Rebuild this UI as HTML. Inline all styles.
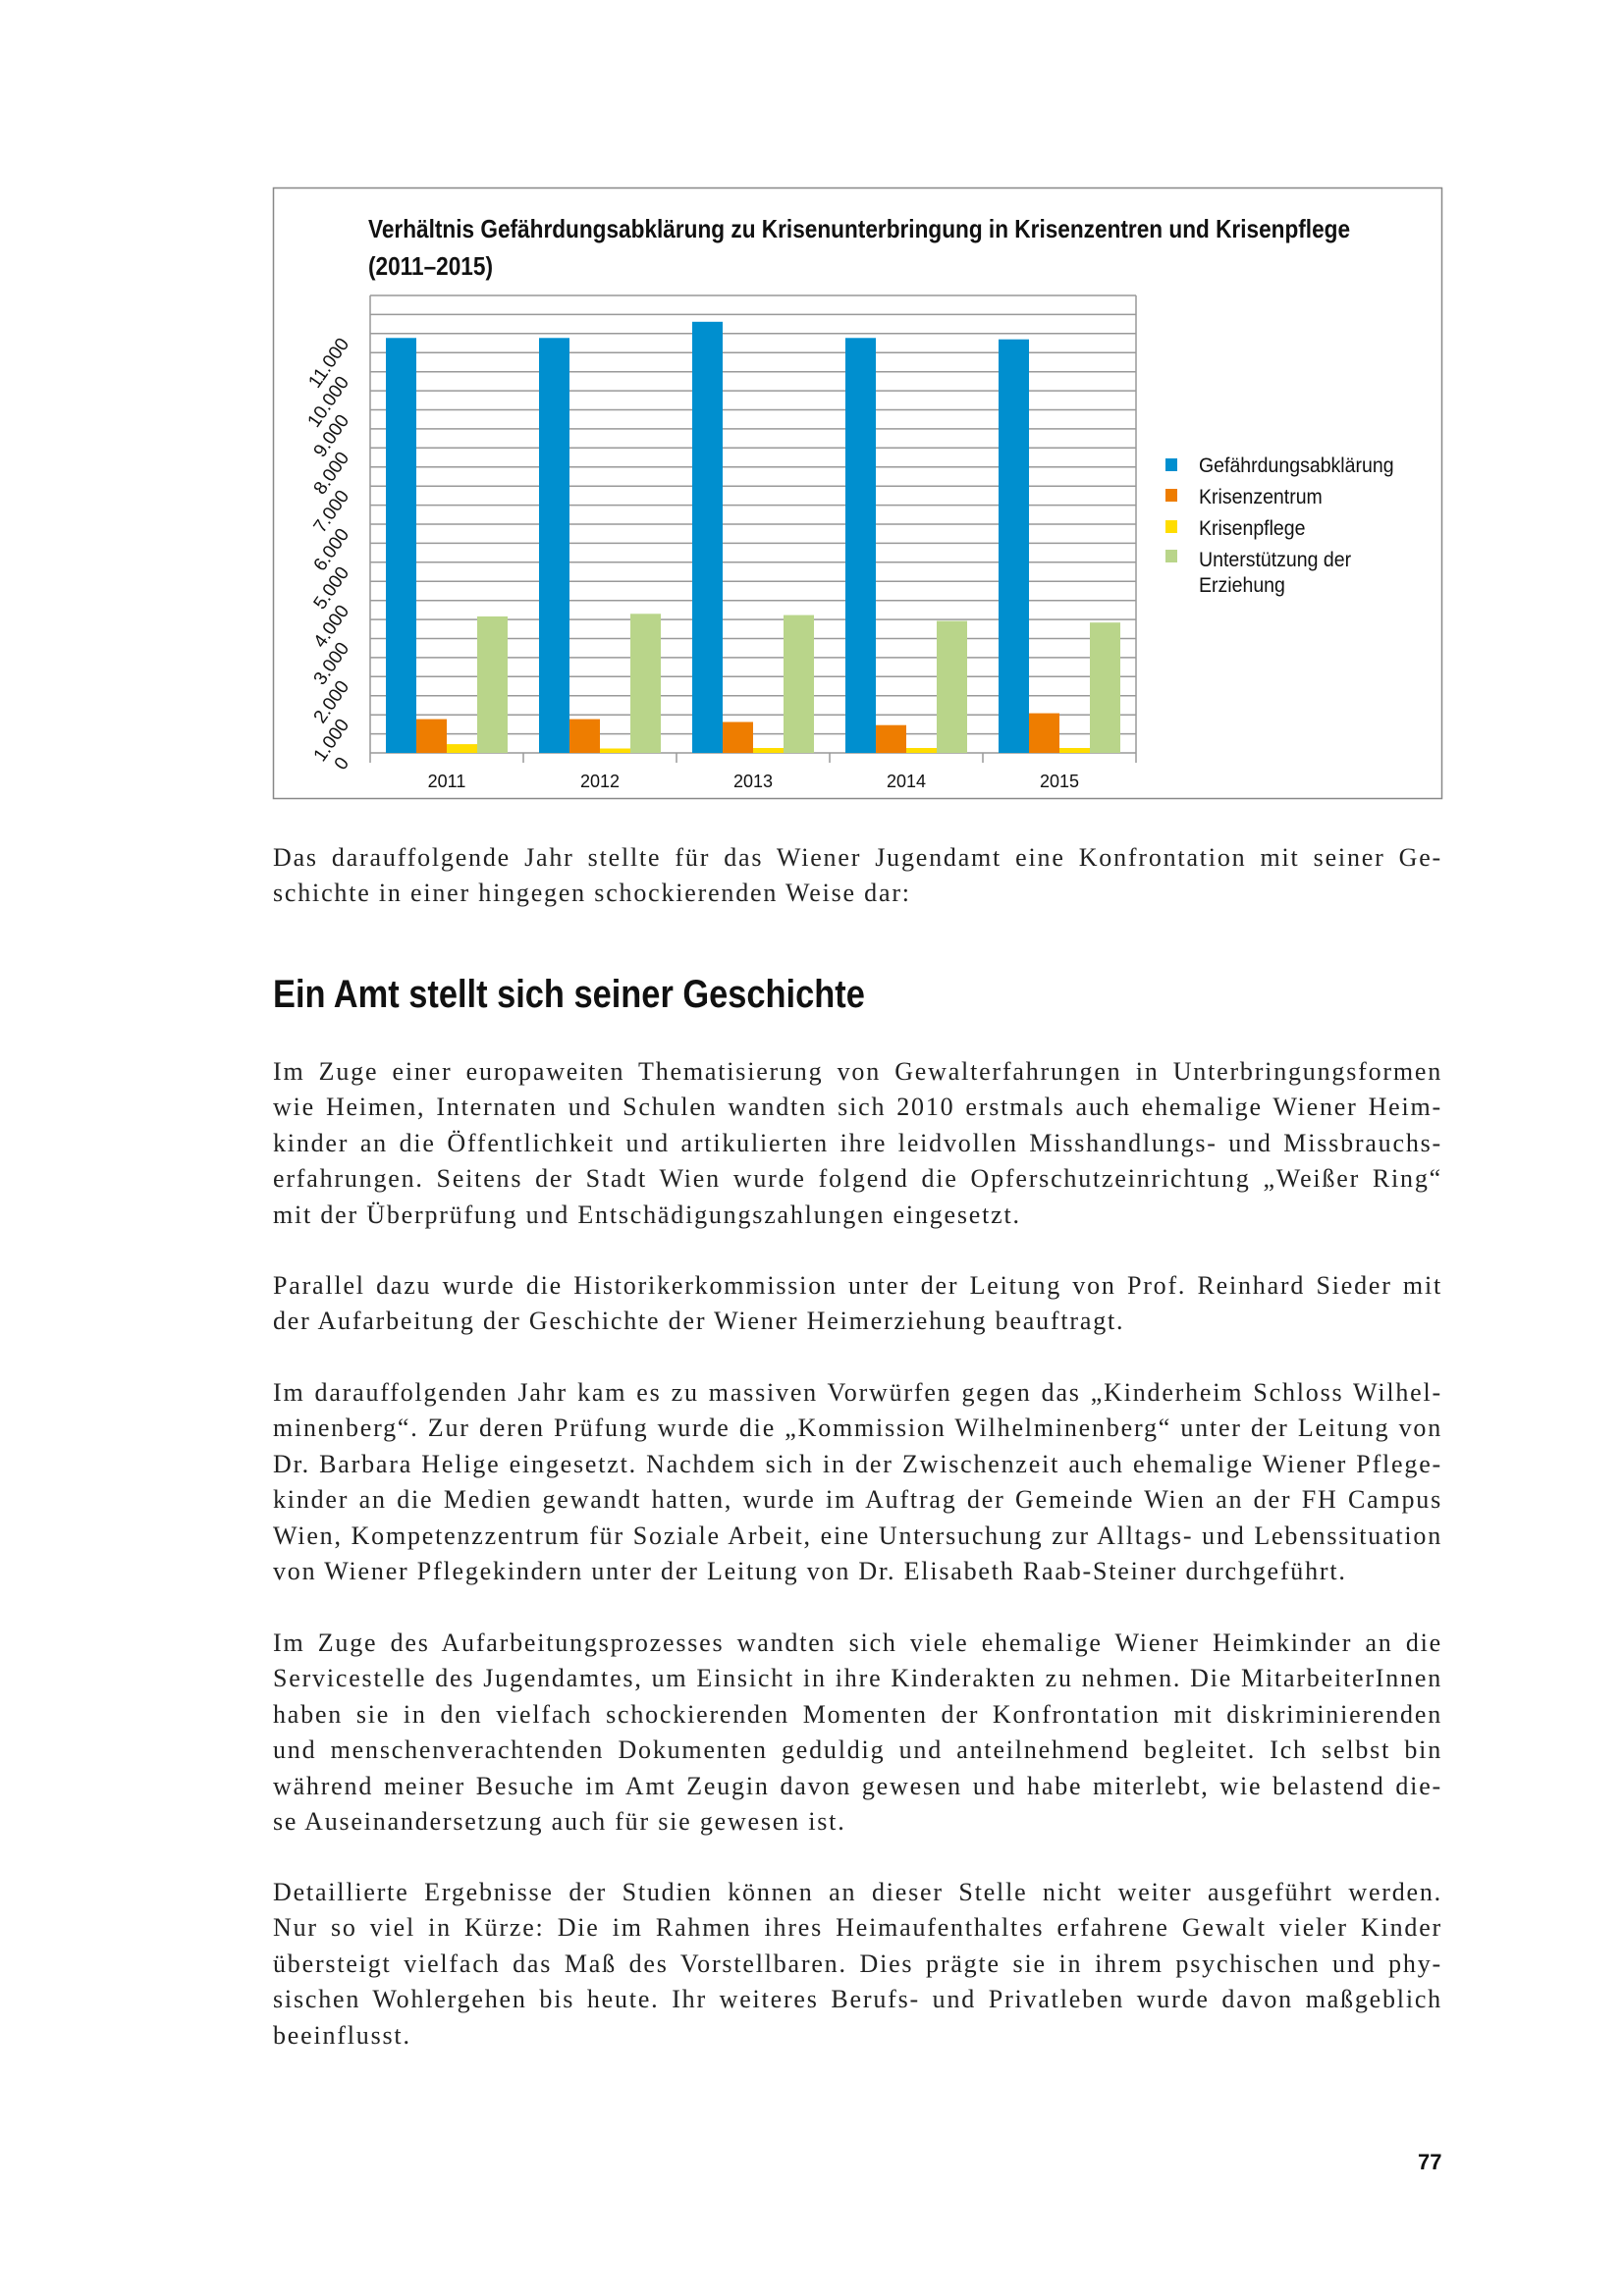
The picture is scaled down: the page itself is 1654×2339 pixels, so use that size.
<!DOCTYPE html>
<html><head><meta charset="utf-8"><style>
body{margin:0;background:#fff;}
.pg{position:relative;width:1654px;height:2339px;overflow:hidden;}
.p{position:absolute;left:278px;width:1191px;font-family:"Liberation Serif",serif;font-size:26px;letter-spacing:1.8px;color:#222;}
.p div{height:36.4px;line-height:36.4px;white-space:nowrap;text-align:justify;text-align-last:justify;}
.p div.l{text-align-last:left;}
.h{position:absolute;left:278px;top:991px;font-family:"Liberation Sans",sans-serif;font-weight:bold;font-size:40px;color:#111;transform:scaleX(0.86);transform-origin:left;white-space:nowrap;}
.num{position:absolute;left:1444px;top:2190px;font-family:"Liberation Sans",sans-serif;font-weight:bold;font-size:22px;color:#111;}
</style></head><body><div class="pg">
<svg width="1654" height="830" style="position:absolute;left:0;top:0" font-family="Liberation Sans, sans-serif">
<rect x="278.5" y="191.5" width="1190" height="622" fill="#fff" stroke="#888" stroke-width="1.5"/>
<g font-weight="bold" font-size="26" fill="#111">
<text x="375" y="242" transform="translate(375 0) scale(0.87 1) translate(-375 0)">Verhältnis Gefährdungsabklärung zu Krisenunterbringung in Krisenzentren und Krisenpflege</text>
<text x="375" y="280" transform="translate(375 0) scale(0.87 1) translate(-375 0)">(2011–2015)</text>
</g>
<g stroke="#999" stroke-width="1.5">
<line x1="377" y1="767" x2="1157" y2="767"/><line x1="377" y1="747.6" x2="1157" y2="747.6"/><line x1="377" y1="728.2" x2="1157" y2="728.2"/><line x1="377" y1="708.8" x2="1157" y2="708.8"/><line x1="377" y1="689.3" x2="1157" y2="689.3"/><line x1="377" y1="669.9" x2="1157" y2="669.9"/><line x1="377" y1="650.5" x2="1157" y2="650.5"/><line x1="377" y1="631.1" x2="1157" y2="631.1"/><line x1="377" y1="611.7" x2="1157" y2="611.7"/><line x1="377" y1="592.3" x2="1157" y2="592.3"/><line x1="377" y1="572.8" x2="1157" y2="572.8"/><line x1="377" y1="553.4" x2="1157" y2="553.4"/><line x1="377" y1="534" x2="1157" y2="534"/><line x1="377" y1="514.6" x2="1157" y2="514.6"/><line x1="377" y1="495.2" x2="1157" y2="495.2"/><line x1="377" y1="475.8" x2="1157" y2="475.8"/><line x1="377" y1="456.3" x2="1157" y2="456.3"/><line x1="377" y1="436.9" x2="1157" y2="436.9"/><line x1="377" y1="417.5" x2="1157" y2="417.5"/><line x1="377" y1="398.1" x2="1157" y2="398.1"/><line x1="377" y1="378.7" x2="1157" y2="378.7"/><line x1="377" y1="359.3" x2="1157" y2="359.3"/><line x1="377" y1="339.8" x2="1157" y2="339.8"/><line x1="377" y1="320.4" x2="1157" y2="320.4"/><line x1="377" y1="301" x2="1157" y2="301"/>
<line x1="377" y1="301" x2="377" y2="777"/><line x1="533" y1="767" x2="533" y2="777"/><line x1="689" y1="767" x2="689" y2="777"/><line x1="845" y1="767" x2="845" y2="777"/><line x1="1001" y1="767" x2="1001" y2="777"/><line x1="1157" y1="301" x2="1157" y2="777"/>
</g>
<g>
<rect x="393" y="344.3" width="31" height="422.7" fill="#008fcf"/><rect x="424" y="732.6" width="31" height="34.4" fill="#ee7d00"/><rect x="455" y="758.1" width="31" height="8.9" fill="#ffdd00"/><rect x="486" y="628" width="31" height="139" fill="#b9d58a"/>
<rect x="549" y="344.3" width="31" height="422.7" fill="#008fcf"/><rect x="580" y="732.6" width="31" height="34.4" fill="#ee7d00"/><rect x="611" y="762.5" width="31" height="4.5" fill="#ffdd00"/><rect x="642" y="625.3" width="31" height="141.7" fill="#b9d58a"/>
<rect x="705" y="327.8" width="31" height="439.2" fill="#008fcf"/><rect x="736" y="735.5" width="31" height="31.5" fill="#ee7d00"/><rect x="767" y="762" width="31" height="5" fill="#ffdd00"/><rect x="798" y="626.6" width="31" height="140.4" fill="#b9d58a"/>
<rect x="861" y="344.3" width="31" height="422.7" fill="#008fcf"/><rect x="892" y="738.7" width="31" height="28.3" fill="#ee7d00"/><rect x="923" y="762" width="31" height="5" fill="#ffdd00"/><rect x="954" y="632.6" width="31" height="134.4" fill="#b9d58a"/>
<rect x="1017" y="345.7" width="31" height="421.3" fill="#008fcf"/><rect x="1048" y="726.6" width="31" height="40.4" fill="#ee7d00"/><rect x="1079" y="762" width="31" height="5" fill="#ffdd00"/><rect x="1110" y="634.2" width="31" height="132.8" fill="#b9d58a"/>
</g>
<g font-size="18" fill="#111" text-anchor="middle">
<text x="455" y="802">2011</text><text x="611" y="802">2012</text><text x="767" y="802">2013</text><text x="923" y="802">2014</text><text x="1079" y="802">2015</text>
</g>
<g font-size="19" fill="#111" text-anchor="end">
<text transform="translate(356 777) rotate(-55)">0</text>
<text transform="translate(356 738) rotate(-55)">1.000</text>
<text transform="translate(356 699) rotate(-55)">2.000</text>
<text transform="translate(356 660) rotate(-55)">3.000</text>
<text transform="translate(356 622) rotate(-55)">4.000</text>
<text transform="translate(356 583) rotate(-55)">5.000</text>
<text transform="translate(356 544) rotate(-55)">6.000</text>
<text transform="translate(356 505) rotate(-55)">7.000</text>
<text transform="translate(356 466) rotate(-55)">8.000</text>
<text transform="translate(356 428) rotate(-55)">9.000</text>
<text transform="translate(356 389) rotate(-55)">10.000</text>
<text transform="translate(356 350) rotate(-55)">11.000</text>
</g>
<rect x="1187" y="467" width="12" height="13" fill="#008fcf"/>
<rect x="1187" y="498" width="12" height="13" fill="#ee7d00"/>
<rect x="1187" y="530" width="12" height="13" fill="#ffdd00"/>
<rect x="1187" y="560" width="12" height="13" fill="#b9d58a"/>
<g font-size="21" fill="#111">
<text x="1221" y="481" transform="translate(1221 0) scale(0.93 1) translate(-1221 0)">Gefährdungsabklärung</text>
<text x="1221" y="513" transform="translate(1221 0) scale(0.93 1) translate(-1221 0)">Krisenzentrum</text>
<text x="1221" y="545" transform="translate(1221 0) scale(0.93 1) translate(-1221 0)">Krisenpflege</text>
<text x="1221" y="577" transform="translate(1221 0) scale(0.93 1) translate(-1221 0)">Unterstützung der</text>
<text x="1221" y="603" transform="translate(1221 0) scale(0.93 1) translate(-1221 0)">Erziehung</text>
</g>
</svg>

<div class="p" style="top:856px">
<div>Das darauffolgende Jahr stellte für das Wiener Jugendamt eine Konfrontation mit seiner Ge-</div>
<div class="l">schichte in einer hingegen schockierenden Weise dar:</div>
</div>
<div class="h">Ein Amt stellt sich seiner Geschichte</div>
<div class="p" style="top:1074px">
<div>Im Zuge einer europaweiten Thematisierung von Gewalterfahrungen in Unterbringungsformen</div>
<div>wie Heimen, Internaten und Schulen wandten sich 2010 erstmals auch ehemalige Wiener Heim-</div>
<div>kinder an die Öffentlichkeit und artikulierten ihre leidvollen Misshandlungs- und Missbrauchs-</div>
<div>erfahrungen. Seitens der Stadt Wien wurde folgend die Opferschutzeinrichtung „Weißer Ring“</div>
<div class="l">mit der Überprüfung und Entschädigungszahlungen eingesetzt.</div>
</div>
<div class="p" style="top:1292px">
<div>Parallel dazu wurde die Historikerkommission unter der Leitung von Prof. Reinhard Sieder mit</div>
<div class="l">der Aufarbeitung der Geschichte der Wiener Heimerziehung beauftragt.</div>
</div>
<div class="p" style="top:1401px">
<div>Im darauffolgenden Jahr kam es zu massiven Vorwürfen gegen das „Kinderheim Schloss Wilhel-</div>
<div>minenberg“. Zur deren Prüfung wurde die „Kommission Wilhelminenberg“ unter der Leitung von</div>
<div>Dr. Barbara Helige eingesetzt. Nachdem sich in der Zwischenzeit auch ehemalige Wiener Pflege-</div>
<div>kinder an die Medien gewandt hatten, wurde im Auftrag der Gemeinde Wien an der FH Campus</div>
<div>Wien, Kompetenzzentrum für Soziale Arbeit, eine Untersuchung zur Alltags- und Lebenssituation</div>
<div class="l">von Wiener Pflegekindern unter der Leitung von Dr. Elisabeth Raab-Steiner durchgeführt.</div>
</div>
<div class="p" style="top:1656px">
<div>Im Zuge des Aufarbeitungsprozesses wandten sich viele ehemalige Wiener Heimkinder an die</div>
<div>Servicestelle des Jugendamtes, um Einsicht in ihre Kinderakten zu nehmen. Die MitarbeiterInnen</div>
<div>haben sie in den vielfach schockierenden Momenten der Konfrontation mit diskriminierenden</div>
<div>und menschenverachtenden Dokumenten geduldig und anteilnehmend begleitet. Ich selbst bin</div>
<div>während meiner Besuche im Amt Zeugin davon gewesen und habe miterlebt, wie belastend die-</div>
<div class="l">se Auseinandersetzung auch für sie gewesen ist.</div>
</div>
<div class="p" style="top:1910px">
<div>Detaillierte Ergebnisse der Studien können an dieser Stelle nicht weiter ausgeführt werden.</div>
<div>Nur so viel in Kürze: Die im Rahmen ihres Heimaufenthaltes erfahrene Gewalt vieler Kinder</div>
<div>übersteigt vielfach das Maß des Vorstellbaren. Dies prägte sie in ihrem psychischen und phy-</div>
<div>sischen Wohlergehen bis heute. Ihr weiteres Berufs- und Privatleben wurde davon maßgeblich</div>
<div class="l">beeinflusst.</div>
</div>
<div class="num">77</div>
</div></body></html>
